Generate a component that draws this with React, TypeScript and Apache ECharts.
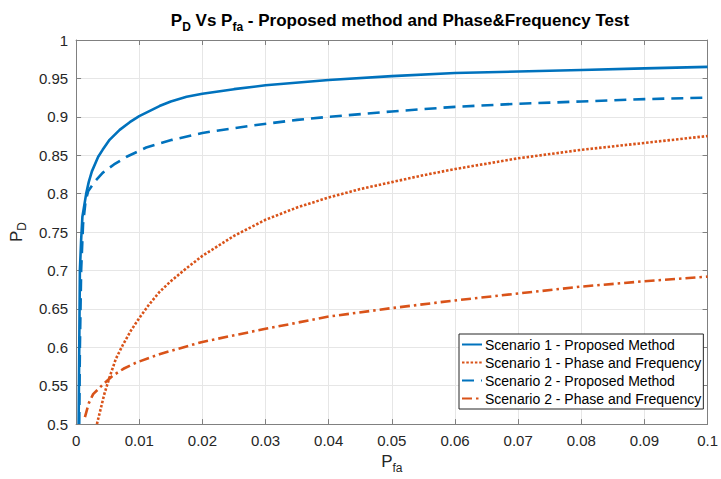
import React, { useEffect, useRef } from "react";
import * as echarts from "echarts";

const FONT = '"Liberation Sans", Arial, Helvetica, sans-serif';

// Scenario 1 - Proposed Method
const s1PropX = [0.0004, 0.0005, 0.0006, 0.0008, 0.001, 0.0016, 0.002, 0.0025, 0.0035, 0.0042, 0.0053, 0.0069, 0.0085, 0.01, 0.0132, 0.015, 0.0175, 0.02, 0.025, 0.03, 0.04, 0.05, 0.06, 0.07, 0.08, 0.09, 0.1];
const s1PropY = [0.5, 0.6, 0.7, 0.74, 0.77, 0.8, 0.815, 0.829, 0.848, 0.857, 0.87, 0.883, 0.893, 0.901, 0.914, 0.92, 0.926, 0.93, 0.936, 0.941, 0.948, 0.953, 0.957, 0.959, 0.961, 0.963, 0.965];

// Scenario 1 - Phase and Frequency
const s1PhaseX = [0.0033, 0.0045, 0.0053, 0.0063, 0.0074, 0.0087, 0.01, 0.0115, 0.0132, 0.015, 0.0175, 0.02, 0.025, 0.03, 0.035, 0.04, 0.045, 0.05, 0.055, 0.06, 0.065, 0.07, 0.08, 0.09, 0.1];
const s1PhaseY = [0.5, 0.54, 0.561, 0.585, 0.603, 0.622, 0.638, 0.655, 0.672, 0.686, 0.703, 0.719, 0.745, 0.766, 0.782, 0.795, 0.806, 0.815, 0.824, 0.832, 0.839, 0.846, 0.857, 0.866, 0.875];

// Scenario 2 - Proposed Method
const s2PropX = [0.0005, 0.0006, 0.0008, 0.0011, 0.0015, 0.0019, 0.003, 0.0042, 0.006, 0.008, 0.0111, 0.0152, 0.02, 0.0273, 0.035, 0.04, 0.05, 0.06, 0.07, 0.08, 0.09, 0.1];
const s2PropY = [0.5, 0.6, 0.7, 0.76, 0.79, 0.803, 0.816, 0.827, 0.838, 0.848, 0.86, 0.87, 0.879, 0.888, 0.896, 0.9, 0.907, 0.913, 0.917, 0.92, 0.923, 0.925];

// Scenario 2 - Phase and Frequency
const s2PhaseX = [0.0014, 0.002, 0.0027, 0.0043, 0.0058, 0.0075, 0.0095, 0.0132, 0.02, 0.0288, 0.03, 0.035, 0.04, 0.05, 0.06, 0.07, 0.08, 0.09, 0.1];
const s2PhaseY = [0.509, 0.527, 0.539, 0.552, 0.563, 0.572, 0.58, 0.591, 0.607, 0.622, 0.624, 0.632, 0.64, 0.651, 0.661, 0.67, 0.679, 0.686, 0.692];

const seriesNames = [
  "Scenario 1 - Proposed Method",
  "Scenario 1 - Phase and Frequency",
  "Scenario 2 - Proposed Method",
  "Scenario 2 - Phase and Frequency",
];

const zip = (xs: number[], ys: number[]) => xs.map((x, i) => [x, ys[i]]);

const BLUE = "#0072BD";
const ORANGE = "#D95319";
const AXIS = "#808080";
const GRID = "#e6e6e6";
const TXT = "#262626";

const fmt = (v: number) => String(+v.toFixed(2));

export default function App() {
  const ref = useRef<HTMLDivElement>(null);
  useEffect(() => {
    const chart = echarts.init(ref.current!, null, { renderer: "svg" });
    const lineAxisCommon = {
      axisLine: { show: true, onZero: false, lineStyle: { color: AXIS, width: 1 } },
      axisTick: { show: true, inside: true, length: 5, lineStyle: { color: AXIS } },
    };
    chart.setOption({
      animation: false,
      backgroundColor: "#fff",
      title: {
        text: "{a|P}{s|D}{a| Vs P}{s|fa}{a| - Proposed method and Phase&Frequency Test}",
        left: 395,
        textAlign: "center",
        top: 7,
        textStyle: {
          rich: {
            a: { fontFamily: FONT, fontWeight: "bold", fontSize: 17, color: "#000", lineHeight: 20, verticalAlign: "top" },
            s: { fontFamily: FONT, fontWeight: "bold", fontSize: 12, color: "#000", lineHeight: 20, verticalAlign: "top", padding: [9, 0, 0, 0] },
          },
        },
      },
      grid: { left: 76, right: 7, top: 40, bottom: 52, containLabel: false },
      legend: {
        orient: "vertical",
        left: 459,
        top: 334,
        data: seriesNames,
        backgroundColor: "#fff",
        borderColor: "#262626",
        borderWidth: 1,
        padding: [2, 2, 2, 2],
        itemGap: 1,
        itemWidth: 20,
        itemHeight: 14,
        itemStyle: { opacity: 0 },
        textStyle: { fontFamily: FONT, fontSize: 14, color: "#000", lineHeight: 17, padding: [0, 0, 0, -2] },
      },
      xAxis: [
        {
          type: "value",
          min: 0,
          max: 0.1,
          interval: 0.01,
          position: "bottom",
          ...lineAxisCommon,
          axisLabel: { fontFamily: FONT, fontSize: 15, color: TXT, margin: 9, formatter: fmt },
          splitLine: { show: true, lineStyle: { color: GRID, width: 1 } },
          name: "{a|P}{s|fa}",
          nameLocation: "middle",
          nameGap: 21,
          nameTextStyle: {
            rich: {
              a: { fontFamily: FONT, fontSize: 17, color: TXT, lineHeight: 18, verticalAlign: "top" },
              s: { fontFamily: FONT, fontSize: 12, color: TXT, lineHeight: 18, verticalAlign: "top", padding: [9, 0, 0, 0] },
            },
          },
        },
        {
          type: "value",
          min: 0,
          max: 0.1,
          interval: 0.01,
          position: "top",
          ...lineAxisCommon,
          axisLabel: { show: false },
          splitLine: { show: false },
        },
      ],
      yAxis: [
        {
          type: "value",
          min: 0.5,
          max: 1,
          interval: 0.05,
          position: "left",
          ...lineAxisCommon,
          axisLabel: { fontFamily: FONT, fontSize: 15, color: TXT, margin: 8, formatter: fmt },
          splitLine: { show: true, lineStyle: { color: GRID, width: 1 } },
          name: "{a|P}{s|D}",
          nameLocation: "middle",
          nameRotate: 90,
          nameGap: 43,
          nameTextStyle: {
            rich: {
              a: { fontFamily: FONT, fontSize: 17, color: TXT, lineHeight: 20, verticalAlign: "top" },
              s: { fontFamily: FONT, fontSize: 12, color: TXT, lineHeight: 20, verticalAlign: "top", padding: [8, 0, 0, 0] },
            },
          },
        },
        {
          type: "value",
          min: 0.5,
          max: 1,
          interval: 0.05,
          position: "right",
          ...lineAxisCommon,
          axisLabel: { show: false },
          splitLine: { show: false },
        },
      ],
      series: [
        {
          name: seriesNames[2],
          type: "line",
          data: zip(s2PropX, s2PropY),
          showSymbol: false,
          symbol: "none",
          lineStyle: { color: BLUE, width: 2.6, type: [12, 7], cap: "butt" },
          itemStyle: { color: BLUE },
          z: 2,
        },
        {
          name: seriesNames[3],
          type: "line",
          data: zip(s2PhaseX, s2PhaseY),
          showSymbol: false,
          symbol: "none",
          lineStyle: { color: ORANGE, width: 2.6, type: [10, 4, 2.5, 4], cap: "butt" },
          itemStyle: { color: ORANGE },
          z: 2,
        },
        {
          name: seriesNames[1],
          type: "line",
          data: zip(s1PhaseX, s1PhaseY),
          showSymbol: false,
          symbol: "none",
          lineStyle: { color: ORANGE, width: 2.6, type: [2.5, 1.8], cap: "butt" },
          itemStyle: { color: ORANGE },
          z: 3,
        },
        {
          name: seriesNames[0],
          type: "line",
          data: zip(s1PropX, s1PropY),
          showSymbol: false,
          symbol: "none",
          lineStyle: { color: BLUE, width: 2.6, type: "solid" },
          itemStyle: { color: BLUE },
          z: 4,
        },
      ],
    });
    return () => chart.dispose();
  }, []);
  return (
    <div
      ref={ref}
      style={{ position: "fixed", left: 0, top: 0, width: 721, height: 479, background: "#fff" }}
    />
  );
}
